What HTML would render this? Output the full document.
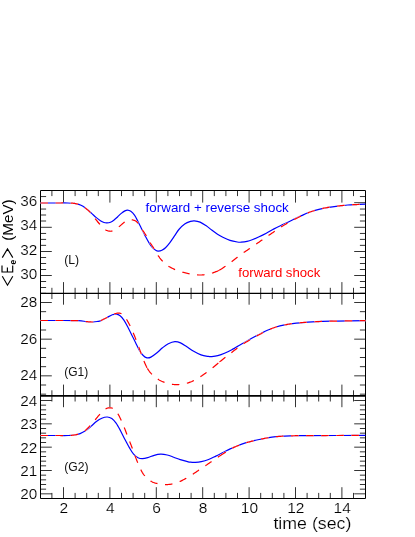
<!DOCTYPE html>
<html><head><meta charset="utf-8"><title>plot</title>
<style>
html,body{margin:0;padding:0;background:#fff;}
body{width:415px;height:537px;overflow:hidden;font-family:"Liberation Sans",sans-serif;}
svg{display:block;}
text{font-family:"Liberation Sans",sans-serif;stroke:#fff;stroke-width:0.18px;paint-order:fill stroke;}
text.ns{stroke:none;}
svg{will-change:transform;transform:translateZ(0);}
</style></head><body>
<svg width="415" height="537" viewBox="0 0 415 537">
<rect width="415" height="537" fill="#fff"/>
<g fill="none" stroke="#000" stroke-width="1">
<path d="M40.50 287.50H46.10M359.90 287.50H365.50M40.50 281.50H46.10M359.90 281.50H365.50M40.50 275.50H51.80M354.20 275.50H365.50M40.50 269.50H46.10M359.90 269.50H365.50M40.50 263.50H46.10M359.90 263.50H365.50M40.50 257.50H46.10M359.90 257.50H365.50M40.50 251.50H51.80M354.20 251.50H365.50M40.50 245.35H46.10M359.90 245.35H365.50M40.50 239.40H46.10M359.90 239.40H365.50M40.50 233.45H46.10M359.90 233.45H365.50M40.50 227.30H51.80M354.20 227.30H365.50M40.50 221.00H46.10M359.90 221.00H365.50M40.50 215.00H46.10M359.90 215.00H365.50M40.50 209.05H46.10M359.90 209.05H365.50M354.20 202.70H365.50M40.50 196.55H46.10M359.90 196.55H365.50M40.50 394.16H46.10M359.90 394.16H365.50M40.50 385.00H46.10M359.90 385.00H365.50M40.50 375.83H51.80M354.20 375.83H365.50M40.50 366.66H46.10M359.90 366.66H365.50M40.50 357.50H46.10M359.90 357.50H365.50M40.50 348.33H46.10M359.90 348.33H365.50M40.50 339.16H51.80M354.20 339.16H365.50M40.50 330.00H46.10M359.90 330.00H365.50M40.50 311.66H46.10M359.90 311.66H365.50M40.50 302.50H51.80M354.20 302.50H365.50M40.50 293.33H46.10M359.90 293.33H365.50M40.50 493.83H51.80M354.20 493.83H365.50M40.50 489.17H46.10M359.90 489.17H365.50M40.50 484.50H46.10M359.90 484.50H365.50M40.50 479.83H46.10M359.90 479.83H365.50M40.50 475.17H46.10M359.90 475.17H365.50M40.50 470.50H51.80M354.20 470.50H365.50M40.50 465.83H46.10M359.90 465.83H365.50M40.50 461.17H46.10M359.90 461.17H365.50M40.50 456.50H46.10M359.90 456.50H365.50M40.50 451.83H46.10M359.90 451.83H365.50M40.50 447.17H51.80M354.20 447.17H365.50M40.50 442.50H46.10M359.90 442.50H365.50M40.50 437.83H46.10M359.90 437.83H365.50M40.50 433.17H46.10M359.90 433.17H365.50M40.50 428.50H46.10M359.90 428.50H365.50M40.50 423.83H51.80M354.20 423.83H365.50M40.50 419.17H46.10M359.90 419.17H365.50M40.50 414.50H46.10M359.90 414.50H365.50M40.50 409.83H46.10M359.90 409.83H365.50M40.50 405.17H46.10M359.90 405.17H365.50M40.50 400.50H51.80M354.20 400.50H365.50M51.90 190.50V196.10M51.90 287.80V299.00M51.90 390.30V401.50M51.90 492.90V498.50M63.50 190.50V202.60M63.50 282.10V304.70M63.50 384.60V407.20M63.50 487.20V498.50M75.10 190.50V196.10M75.10 287.80V299.00M75.10 390.30V401.50M75.10 492.90V498.50M86.70 190.50V196.10M86.70 287.80V299.00M86.70 390.30V401.50M86.70 492.90V498.50M98.30 190.50V196.10M98.30 287.80V299.00M98.30 390.30V401.50M98.30 492.90V498.50M109.90 190.50V202.60M109.90 282.10V304.70M109.90 384.60V407.20M109.90 487.20V498.50M121.50 190.50V196.10M121.50 287.80V299.00M121.50 390.30V401.50M121.50 492.90V498.50M133.10 190.50V196.10M133.10 287.80V299.00M133.10 390.30V401.50M133.10 492.90V498.50M144.70 190.50V196.10M144.70 287.80V299.00M144.70 390.30V401.50M144.70 492.90V498.50M156.30 190.50V202.60M156.30 282.10V304.70M156.30 384.60V407.20M156.30 487.20V498.50M167.90 190.50V196.10M167.90 287.80V299.00M167.90 390.30V401.50M167.90 492.90V498.50M179.50 190.50V196.10M179.50 287.80V299.00M179.50 390.30V401.50M179.50 492.90V498.50M191.10 190.50V196.10M191.10 287.80V299.00M191.10 390.30V401.50M191.10 492.90V498.50M202.70 190.50V202.60M202.70 282.10V304.70M202.70 384.60V407.20M202.70 487.20V498.50M214.30 190.50V196.10M214.30 287.80V299.00M214.30 390.30V401.50M214.30 492.90V498.50M225.90 190.50V196.10M225.90 287.80V299.00M225.90 390.30V401.50M225.90 492.90V498.50M237.50 190.50V196.10M237.50 287.80V299.00M237.50 390.30V401.50M237.50 492.90V498.50M249.10 190.50V202.60M249.10 282.10V304.70M249.10 384.60V407.20M249.10 487.20V498.50M260.70 190.50V196.10M260.70 287.80V299.00M260.70 390.30V401.50M260.70 492.90V498.50M272.30 190.50V196.10M272.30 287.80V299.00M272.30 390.30V401.50M272.30 492.90V498.50M283.90 190.50V196.10M283.90 287.80V299.00M283.90 390.30V401.50M283.90 492.90V498.50M295.50 190.50V202.60M295.50 282.10V304.70M295.50 384.60V407.20M295.50 487.20V498.50M307.10 190.50V196.10M307.10 287.80V299.00M307.10 390.30V401.50M307.10 492.90V498.50M318.70 190.50V196.10M318.70 287.80V299.00M318.70 390.30V401.50M318.70 492.90V498.50M330.30 190.50V196.10M330.30 287.80V299.00M330.30 390.30V401.50M330.30 492.90V498.50M341.90 190.50V202.60M341.90 282.10V304.70M341.90 384.60V407.20M341.90 487.20V498.50M353.50 190.50V196.10M353.50 287.80V299.00M353.50 390.30V401.50M353.50 492.90V498.50" stroke-width="0.8"/>
<path d="M40.5 190.5H365.5V498.5H40.5Z" stroke-width="1"/>
<path d="M40.5 293.4H365.5" stroke-width="1.1"/>
<path d="M40.5 395.9H365.5" stroke-width="1.6"/>
</g>
<g fill="none" stroke-linejoin="round">
<path d="M40.50 203.00 C42.92 203.00 50.42 203.00 55.00 203.00 C59.58 203.00 64.78 202.93 68.00 203.00 C71.22 203.07 72.52 203.17 74.30 203.40 C76.08 203.63 77.25 203.92 78.70 204.40 C80.15 204.88 81.57 205.45 83.00 206.30 C84.43 207.15 85.85 208.32 87.30 209.50 C88.75 210.68 90.25 212.08 91.70 213.40 C93.15 214.72 94.55 216.18 96.00 217.40 C97.45 218.62 99.07 219.85 100.40 220.70 C101.73 221.55 102.92 222.13 104.00 222.50 C105.08 222.87 105.82 222.95 106.90 222.90 C107.98 222.85 109.30 222.70 110.50 222.20 C111.70 221.70 112.90 220.82 114.10 219.90 C115.30 218.98 116.50 217.78 117.70 216.70 C118.90 215.62 120.10 214.37 121.30 213.40 C122.50 212.43 123.87 211.45 124.90 210.90 C125.93 210.35 126.52 210.03 127.50 210.10 C128.48 210.17 129.63 210.45 130.80 211.30 C131.97 212.15 133.28 213.47 134.50 215.20 C135.72 216.93 136.90 219.42 138.10 221.70 C139.30 223.98 140.50 226.50 141.70 228.90 C142.90 231.30 144.10 233.82 145.30 236.10 C146.50 238.38 147.70 240.67 148.90 242.60 C150.10 244.53 151.30 246.37 152.50 247.70 C153.70 249.03 155.13 250.03 156.10 250.60 C157.07 251.17 157.33 251.17 158.30 251.10 C159.27 251.03 160.70 250.77 161.90 250.20 C163.10 249.63 164.17 248.97 165.50 247.70 C166.83 246.43 168.33 244.65 169.90 242.60 C171.47 240.55 173.40 237.58 174.90 235.40 C176.40 233.22 177.27 231.38 178.90 229.50 C180.53 227.62 182.77 225.45 184.70 224.10 C186.63 222.75 188.90 221.95 190.50 221.40 C192.10 220.85 192.70 220.68 194.30 220.80 C195.90 220.92 198.17 221.30 200.10 222.10 C202.03 222.90 203.97 224.28 205.90 225.60 C207.83 226.92 209.77 228.55 211.70 230.00 C213.63 231.45 215.57 233.05 217.50 234.30 C219.43 235.55 221.22 236.48 223.30 237.50 C225.38 238.52 227.67 239.65 230.00 240.40 C232.33 241.15 235.43 241.70 237.30 242.00 C239.17 242.30 239.58 242.30 241.20 242.20 C242.82 242.10 245.07 241.85 247.00 241.40 C248.93 240.95 250.87 240.23 252.80 239.50 C254.73 238.77 256.35 238.05 258.60 237.00 C260.85 235.95 263.73 234.55 266.30 233.20 C268.87 231.85 271.43 230.25 274.00 228.90 C276.57 227.55 279.13 226.33 281.70 225.10 C284.27 223.87 287.05 222.63 289.40 221.50 C291.75 220.37 293.77 219.28 295.80 218.30 C297.83 217.32 299.35 216.60 301.60 215.60 C303.85 214.60 306.42 213.35 309.30 212.30 C312.18 211.25 315.68 210.13 318.90 209.30 C322.12 208.47 325.38 207.85 328.60 207.30 C331.82 206.75 335.00 206.38 338.20 206.00 C341.40 205.62 344.58 205.25 347.80 205.00 C351.02 204.75 354.55 204.65 357.50 204.50 C360.45 204.35 364.17 204.17 365.50 204.10" stroke="#0000ff" stroke-width="1.2"/>
<path d="M40.50 203.00L41.21 203.00L42.09 203.00L43.14 203.00L44.31 203.00L45.59 203.00L46.94 203.00L48.33 203.00L49.74 203.00L51.14 203.00L52.50 203.00L53.80 203.00L55.00 203.00L56.16 203.00L57.33 203.00L58.51 202.99L59.69 202.99L60.86 202.98L62.01 202.97L63.13 202.97L64.22 202.97L65.26 202.97L66.24 202.98L67.16 202.99L68.00 203.00L68.77 203.02L69.46 203.04L70.09 203.06L70.67 203.08L71.20 203.11L71.69 203.14L72.15 203.17L72.59 203.21L73.02 203.25L73.44 203.29L73.86 203.34L74.30 203.40L74.73 203.46L75.14 203.52L75.54 203.58L75.91 203.65L76.27 203.72L76.62 203.79L76.97 203.87L77.31 203.96L77.65 204.06L77.99 204.16L78.34 204.28L78.70 204.40L79.06 204.54L79.43 204.68L79.80 204.84L80.17 205.00L80.54 205.18L80.91 205.36L81.27 205.54L81.63 205.73L81.98 205.92L82.33 206.11L82.67 206.31L83.00 206.50L83.32 206.69L83.63 206.88L83.93 207.08L84.22 207.27L84.50 207.47L84.79 207.68L85.07 207.88L85.35 208.09L85.63 208.31L85.91 208.53L86.20 208.76L86.50 209.00L86.80 209.24L87.09 209.47L87.38 209.69L87.67 209.92L87.96 210.15L88.25 210.39L88.55 210.65L88.86 210.93L89.17 211.22L89.50 211.55L89.84 211.91L90.20 212.30L90.58 212.74L90.97 213.22L91.38 213.73L91.80 214.28L92.23 214.85L92.66 215.43L93.10 216.03L93.55 216.62L93.99 217.21L94.43 217.80L94.87 218.36L95.30 218.90L95.73 219.42L96.15 219.95L96.58 220.47L97.00 220.99L97.43 221.50L97.86 222.01L98.28 222.52L98.71 223.01L99.13 223.50L99.56 223.98L99.98 224.44L100.40 224.90L100.82 225.35L101.25 225.81L101.67 226.26L102.10 226.71L102.52 227.15L102.94 227.58L103.36 227.99L103.78 228.39L104.19 228.76L104.60 229.10L105.00 229.42L105.40 229.70L105.79 229.95L106.18 230.17L106.56 230.36L106.94 230.53L107.32 230.68L107.69 230.80L108.05 230.91L108.41 230.99L108.77 231.06L109.12 231.12L109.46 231.17L109.80 231.20L110.12 231.22L110.42 231.24L110.70 231.23L110.98 231.22L111.25 231.19L111.51 231.14L111.78 231.07L112.07 230.98L112.36 230.87L112.68 230.74L113.03 230.58L113.40 230.40L113.81 230.19L114.24 229.94L114.69 229.66L115.17 229.36L115.66 229.04L116.16 228.70L116.66 228.35L117.18 227.98L117.69 227.61L118.20 227.24L118.71 226.87L119.20 226.50L119.69 226.12L120.20 225.72L120.71 225.30L121.22 224.86L121.73 224.42L122.24 223.98L122.75 223.54L123.25 223.12L123.74 222.72L124.21 222.34L124.66 222.00L125.10 221.70L125.51 221.43L125.91 221.19L126.29 220.97L126.65 220.77L127.01 220.59L127.35 220.43L127.69 220.28L128.03 220.16L128.36 220.05L128.70 219.95L129.05 219.87L129.40 219.80L129.76 219.75L130.12 219.71L130.49 219.70L130.86 219.70L131.23 219.71L131.59 219.74L131.96 219.79L132.32 219.85L132.67 219.92L133.02 220.00L133.37 220.10L133.70 220.20L134.02 220.31L134.33 220.41L134.63 220.52L134.92 220.64L135.21 220.77L135.49 220.92L135.78 221.09L136.07 221.28L136.36 221.51L136.66 221.76L136.97 222.06L137.30 222.40L137.64 222.79L137.99 223.23L138.35 223.72L138.71 224.25L139.08 224.80L139.46 225.38L139.83 225.97L140.21 226.57L140.59 227.17L140.96 227.77L141.33 228.34L141.70 228.90L142.06 229.44L142.43 229.98L142.80 230.53L143.17 231.07L143.53 231.61L143.90 232.15L144.26 232.69L144.62 233.23L144.98 233.77L145.33 234.32L145.67 234.86L146.00 235.40L146.32 235.94L146.63 236.48L146.93 237.02L147.22 237.56L147.51 238.10L147.79 238.64L148.08 239.18L148.37 239.72L148.66 240.26L148.96 240.81L149.27 241.35L149.60 241.90L149.94 242.45L150.28 242.99L150.64 243.54L151.00 244.08L151.36 244.62L151.73 245.17L152.10 245.72L152.48 246.28L152.86 246.84L153.24 247.42L153.62 248.00L154.00 248.60L154.38 249.22L154.76 249.86L155.15 250.52L155.54 251.19L155.93 251.87L156.32 252.56L156.72 253.24L157.11 253.91L157.51 254.56L157.91 255.20L158.30 255.82L158.70 256.40L159.10 256.96L159.49 257.50L159.89 258.04L160.29 258.55L160.69 259.05L161.09 259.54L161.49 260.02L161.90 260.48L162.30 260.93L162.70 261.37L163.10 261.79L163.50 262.20L163.89 262.59L164.28 262.96L164.65 263.32L165.03 263.66L165.40 263.98L165.78 264.29L166.16 264.60L166.55 264.90L166.96 265.20L167.38 265.50L167.83 265.80L168.30 266.10L168.80 266.41L169.32 266.72L169.86 267.03L170.42 267.34L171.00 267.65L171.58 267.95L172.17 268.25L172.77 268.54L173.36 268.82L173.95 269.09L174.53 269.35L175.10 269.60L175.66 269.83L176.21 270.06L176.76 270.27L177.30 270.47L177.85 270.66L178.39 270.85L178.94 271.03L179.50 271.21L180.06 271.38L180.63 271.55L181.21 271.73L181.80 271.90L182.41 272.08L183.04 272.25L183.68 272.42L184.33 272.60L184.98 272.77L185.64 272.93L186.30 273.09L186.96 273.25L187.61 273.40L188.26 273.54L188.89 273.67L189.50 273.80L190.10 273.92L190.71 274.03L191.31 274.13L191.91 274.23L192.50 274.32L193.08 274.41L193.65 274.49L194.21 274.56L194.76 274.63L195.29 274.69L195.81 274.75L196.30 274.80L196.77 274.85L197.22 274.89L197.64 274.92L198.05 274.95L198.44 274.98L198.82 274.99L199.20 275.01L199.57 275.01L199.95 275.02L200.32 275.02L200.71 275.01L201.10 275.00L201.50 274.99L201.89 274.97L202.28 274.94L202.66 274.91L203.05 274.88L203.44 274.84L203.83 274.80L204.23 274.75L204.63 274.70L205.04 274.64L205.46 274.57L205.90 274.50L206.34 274.43L206.79 274.35L207.24 274.27L207.69 274.19L208.15 274.11L208.62 274.01L209.10 273.91L209.59 273.80L210.09 273.67L210.61 273.53L211.15 273.37L211.70 273.20L212.27 273.01L212.87 272.82L213.48 272.61L214.10 272.39L214.74 272.16L215.39 271.91L216.05 271.65L216.72 271.38L217.39 271.09L218.06 270.78L218.73 270.45L219.20 270.20M219.20 270.20L219.40 270.10L220.07 269.73L220.76 269.33L221.45 268.90L222.14 268.46L222.85 267.99L223.55 267.52L224.25 267.03L224.96 266.54L225.65 266.05L226.34 265.56L227.03 265.08L227.70 264.60L228.36 264.13L229.02 263.65L229.67 263.17L230.31 262.69L230.95 262.20L231.59 261.72L232.22 261.23L232.86 260.74L233.49 260.26L234.12 259.77L234.76 259.28L235.40 258.80L236.04 258.31L236.68 257.83L237.33 257.34L237.97 256.84L238.61 256.35L239.25 255.86L239.89 255.37L240.53 254.89L241.18 254.41L241.82 253.93L242.46 253.46L243.10 253.00L243.74 252.55L244.38 252.10L245.02 251.66L245.66 251.23L246.30 250.80L246.94 250.38L247.58 249.95L248.23 249.53L248.87 249.10L249.51 248.67L250.15 248.24L250.80 247.80L251.45 247.36L252.10 246.91L252.75 246.46L253.40 246.01L254.05 245.56L254.70 245.11L255.35 244.66L256.00 244.21L256.65 243.75L257.30 243.30L257.95 242.85L258.60 242.40L259.25 241.95L259.89 241.50L260.53 241.05L261.17 240.59L261.82 240.14L262.46 239.69L263.10 239.24L263.74 238.79L264.38 238.34L265.02 237.89L265.66 237.44L266.30 237.00L266.94 236.56L267.58 236.12L268.23 235.69L268.87 235.25L269.51 234.82L270.15 234.39L270.79 233.96L271.43 233.53L272.07 233.10L272.72 232.66L273.36 232.23L274.00 231.80L274.65 231.36L275.31 230.91L275.97 230.46L276.64 230.00L277.30 229.55L277.97 229.09L278.63 228.65L279.27 228.21L279.91 227.78L280.53 227.37L281.12 226.97L281.70 226.60L282.25 226.25L282.78 225.91L283.28 225.60L283.77 225.29L284.25 225.00L284.72 224.72L285.18 224.44L285.64 224.17L286.09 223.91L286.56 223.64L287.02 223.37L287.50 223.10L287.98 222.83L288.44 222.57L288.89 222.32L289.34 222.08L289.79 221.84L290.24 221.59L290.71 221.35L291.18 221.10L291.67 220.84L292.19 220.58L292.73 220.30L293.30 220.00L293.91 219.69L294.55 219.36L295.21 219.01L295.90 218.66L296.61 218.29L297.33 217.92L298.06 217.56L298.79 217.19L299.51 216.83L300.22 216.47L300.92 216.13L301.60 215.80L302.26 215.48L302.90 215.17L303.52 214.86L304.14 214.56L304.75 214.27L305.37 213.98L305.99 213.69L306.61 213.40L307.26 213.12L307.91 212.85L308.59 212.57L309.30 212.30L310.03 212.03L310.79 211.76L311.56 211.49L312.36 211.23L313.16 210.96L313.97 210.71L314.80 210.45L315.62 210.21L316.45 209.97L317.27 209.74L318.09 209.51L318.90 209.30L319.71 209.10L320.51 208.90L321.32 208.71L322.13 208.53L322.94 208.36L323.75 208.19L324.56 208.03L325.37 207.88L326.18 207.73L326.99 207.58L327.79 207.44L328.60 207.30L329.40 207.17L330.21 207.04L331.01 206.92L331.81 206.80L332.61 206.69L333.41 206.59L334.21 206.48L335.00 206.39L335.80 206.29L336.60 206.19L337.40 206.10L338.20 206.00L339.00 205.90L339.80 205.81L340.60 205.72L341.40 205.63L342.19 205.54L342.99 205.45L343.79 205.37L344.59 205.29L345.39 205.21L346.19 205.13L347.00 205.06L347.80 205.00L348.61 204.94L349.43 204.89L350.26 204.84L351.09 204.79L351.92 204.75L352.75 204.71L353.57 204.68L354.39 204.64L355.19 204.61L355.98 204.57L356.75 204.54L357.50 204.50L358.25 204.46L359.02 204.42L359.81 204.38L360.59 204.34L361.36 204.31L362.11 204.27L362.82 204.23L363.49 204.20L364.10 204.17L364.65 204.14L365.12 204.12L365.50 204.10" stroke="#ffffff" stroke-width="1.6" stroke-dasharray="7.5 7.6"/>
<path d="M40.50 203.00L41.21 203.00L42.09 203.00L43.14 203.00L44.31 203.00L45.59 203.00L46.94 203.00L48.33 203.00L49.74 203.00L51.14 203.00L52.50 203.00L53.80 203.00L55.00 203.00L56.16 203.00L57.33 203.00L58.51 202.99L59.69 202.99L60.86 202.98L62.01 202.97L63.13 202.97L64.22 202.97L65.26 202.97L66.24 202.98L67.16 202.99L68.00 203.00L68.77 203.02L69.46 203.04L70.09 203.06L70.67 203.08L71.20 203.11L71.69 203.14L72.15 203.17L72.59 203.21L73.02 203.25L73.44 203.29L73.86 203.34L74.30 203.40L74.73 203.46L75.14 203.52L75.54 203.58L75.91 203.65L76.27 203.72L76.62 203.79L76.97 203.87L77.31 203.96L77.65 204.06L77.99 204.16L78.34 204.28L78.70 204.40L79.06 204.54L79.43 204.68L79.80 204.84L80.17 205.00L80.54 205.18L80.91 205.36L81.27 205.54L81.63 205.73L81.98 205.92L82.33 206.11L82.67 206.31L83.00 206.50L83.32 206.69L83.63 206.88L83.93 207.08L84.22 207.27L84.50 207.47L84.79 207.68L85.07 207.88L85.35 208.09L85.63 208.31L85.91 208.53L86.20 208.76L86.50 209.00L86.80 209.24L87.09 209.47L87.38 209.69L87.67 209.92L87.96 210.15L88.25 210.39L88.55 210.65L88.86 210.93L89.17 211.22L89.50 211.55L89.84 211.91L90.20 212.30L90.58 212.74L90.97 213.22L91.38 213.73L91.80 214.28L92.23 214.85L92.66 215.43L93.10 216.03L93.55 216.62L93.99 217.21L94.43 217.80L94.87 218.36L95.30 218.90L95.73 219.42L96.15 219.95L96.58 220.47L97.00 220.99L97.43 221.50L97.86 222.01L98.28 222.52L98.71 223.01L99.13 223.50L99.56 223.98L99.98 224.44L100.40 224.90L100.82 225.35L101.25 225.81L101.67 226.26L102.10 226.71L102.52 227.15L102.94 227.58L103.36 227.99L103.78 228.39L104.19 228.76L104.60 229.10L105.00 229.42L105.40 229.70L105.79 229.95L106.18 230.17L106.56 230.36L106.94 230.53L107.32 230.68L107.69 230.80L108.05 230.91L108.41 230.99L108.77 231.06L109.12 231.12L109.46 231.17L109.80 231.20L110.12 231.22L110.42 231.24L110.70 231.23L110.98 231.22L111.25 231.19L111.51 231.14L111.78 231.07L112.07 230.98L112.36 230.87L112.68 230.74L113.03 230.58L113.40 230.40L113.81 230.19L114.24 229.94L114.69 229.66L115.17 229.36L115.66 229.04L116.16 228.70L116.66 228.35L117.18 227.98L117.69 227.61L118.20 227.24L118.71 226.87L119.20 226.50L119.69 226.12L120.20 225.72L120.71 225.30L121.22 224.86L121.73 224.42L122.24 223.98L122.75 223.54L123.25 223.12L123.74 222.72L124.21 222.34L124.66 222.00L125.10 221.70L125.51 221.43L125.91 221.19L126.29 220.97L126.65 220.77L127.01 220.59L127.35 220.43L127.69 220.28L128.03 220.16L128.36 220.05L128.70 219.95L129.05 219.87L129.40 219.80L129.76 219.75L130.12 219.71L130.49 219.70L130.86 219.70L131.23 219.71L131.59 219.74L131.96 219.79L132.32 219.85L132.67 219.92L133.02 220.00L133.37 220.10L133.70 220.20L134.02 220.31L134.33 220.41L134.63 220.52L134.92 220.64L135.21 220.77L135.49 220.92L135.78 221.09L136.07 221.28L136.36 221.51L136.66 221.76L136.97 222.06L137.30 222.40L137.64 222.79L137.99 223.23L138.35 223.72L138.71 224.25L139.08 224.80L139.46 225.38L139.83 225.97L140.21 226.57L140.59 227.17L140.96 227.77L141.33 228.34L141.70 228.90L142.06 229.44L142.43 229.98L142.80 230.53L143.17 231.07L143.53 231.61L143.90 232.15L144.26 232.69L144.62 233.23L144.98 233.77L145.33 234.32L145.67 234.86L146.00 235.40L146.32 235.94L146.63 236.48L146.93 237.02L147.22 237.56L147.51 238.10L147.79 238.64L148.08 239.18L148.37 239.72L148.66 240.26L148.96 240.81L149.27 241.35L149.60 241.90L149.94 242.45L150.28 242.99L150.64 243.54L151.00 244.08L151.36 244.62L151.73 245.17L152.10 245.72L152.48 246.28L152.86 246.84L153.24 247.42L153.62 248.00L154.00 248.60L154.38 249.22L154.76 249.86L155.15 250.52L155.54 251.19L155.93 251.87L156.32 252.56L156.72 253.24L157.11 253.91L157.51 254.56L157.91 255.20L158.30 255.82L158.70 256.40L159.10 256.96L159.49 257.50L159.89 258.04L160.29 258.55L160.69 259.05L161.09 259.54L161.49 260.02L161.90 260.48L162.30 260.93L162.70 261.37L163.10 261.79L163.50 262.20L163.89 262.59L164.28 262.96L164.65 263.32L165.03 263.66L165.40 263.98L165.78 264.29L166.16 264.60L166.55 264.90L166.96 265.20L167.38 265.50L167.83 265.80L168.30 266.10L168.80 266.41L169.32 266.72L169.86 267.03L170.42 267.34L171.00 267.65L171.58 267.95L172.17 268.25L172.77 268.54L173.36 268.82L173.95 269.09L174.53 269.35L175.10 269.60L175.66 269.83L176.21 270.06L176.76 270.27L177.30 270.47L177.85 270.66L178.39 270.85L178.94 271.03L179.50 271.21L180.06 271.38L180.63 271.55L181.21 271.73L181.80 271.90L182.41 272.08L183.04 272.25L183.68 272.42L184.33 272.60L184.98 272.77L185.64 272.93L186.30 273.09L186.96 273.25L187.61 273.40L188.26 273.54L188.89 273.67L189.50 273.80L190.10 273.92L190.71 274.03L191.31 274.13L191.91 274.23L192.50 274.32L193.08 274.41L193.65 274.49L194.21 274.56L194.76 274.63L195.29 274.69L195.81 274.75L196.30 274.80L196.77 274.85L197.22 274.89L197.64 274.92L198.05 274.95L198.44 274.98L198.82 274.99L199.20 275.01L199.57 275.01L199.95 275.02L200.32 275.02L200.71 275.01L201.10 275.00L201.50 274.99L201.89 274.97L202.28 274.94L202.66 274.91L203.05 274.88L203.44 274.84L203.83 274.80L204.23 274.75L204.63 274.70L205.04 274.64L205.46 274.57L205.90 274.50L206.34 274.43L206.79 274.35L207.24 274.27L207.69 274.19L208.15 274.11L208.62 274.01L209.10 273.91L209.59 273.80L210.09 273.67L210.61 273.53L211.15 273.37L211.70 273.20L212.27 273.01L212.87 272.82L213.48 272.61L214.10 272.39L214.74 272.16L215.39 271.91L216.05 271.65L216.72 271.38L217.39 271.09L218.06 270.78L218.73 270.45L219.20 270.20M219.20 270.20L219.40 270.10L220.07 269.73L220.76 269.33L221.45 268.90L222.14 268.46L222.85 267.99L223.55 267.52L224.25 267.03L224.96 266.54L225.65 266.05L226.34 265.56L227.03 265.08L227.70 264.60L228.36 264.13L229.02 263.65L229.67 263.17L230.31 262.69L230.95 262.20L231.59 261.72L232.22 261.23L232.86 260.74L233.49 260.26L234.12 259.77L234.76 259.28L235.40 258.80L236.04 258.31L236.68 257.83L237.33 257.34L237.97 256.84L238.61 256.35L239.25 255.86L239.89 255.37L240.53 254.89L241.18 254.41L241.82 253.93L242.46 253.46L243.10 253.00L243.74 252.55L244.38 252.10L245.02 251.66L245.66 251.23L246.30 250.80L246.94 250.38L247.58 249.95L248.23 249.53L248.87 249.10L249.51 248.67L250.15 248.24L250.80 247.80L251.45 247.36L252.10 246.91L252.75 246.46L253.40 246.01L254.05 245.56L254.70 245.11L255.35 244.66L256.00 244.21L256.65 243.75L257.30 243.30L257.95 242.85L258.60 242.40L259.25 241.95L259.89 241.50L260.53 241.05L261.17 240.59L261.82 240.14L262.46 239.69L263.10 239.24L263.74 238.79L264.38 238.34L265.02 237.89L265.66 237.44L266.30 237.00L266.94 236.56L267.58 236.12L268.23 235.69L268.87 235.25L269.51 234.82L270.15 234.39L270.79 233.96L271.43 233.53L272.07 233.10L272.72 232.66L273.36 232.23L274.00 231.80L274.65 231.36L275.31 230.91L275.97 230.46L276.64 230.00L277.30 229.55L277.97 229.09L278.63 228.65L279.27 228.21L279.91 227.78L280.53 227.37L281.12 226.97L281.70 226.60L282.25 226.25L282.78 225.91L283.28 225.60L283.77 225.29L284.25 225.00L284.72 224.72L285.18 224.44L285.64 224.17L286.09 223.91L286.56 223.64L287.02 223.37L287.50 223.10L287.98 222.83L288.44 222.57L288.89 222.32L289.34 222.08L289.79 221.84L290.24 221.59L290.71 221.35L291.18 221.10L291.67 220.84L292.19 220.58L292.73 220.30L293.30 220.00L293.91 219.69L294.55 219.36L295.21 219.01L295.90 218.66L296.61 218.29L297.33 217.92L298.06 217.56L298.79 217.19L299.51 216.83L300.22 216.47L300.92 216.13L301.60 215.80L302.26 215.48L302.90 215.17L303.52 214.86L304.14 214.56L304.75 214.27L305.37 213.98L305.99 213.69L306.61 213.40L307.26 213.12L307.91 212.85L308.59 212.57L309.30 212.30L310.03 212.03L310.79 211.76L311.56 211.49L312.36 211.23L313.16 210.96L313.97 210.71L314.80 210.45L315.62 210.21L316.45 209.97L317.27 209.74L318.09 209.51L318.90 209.30L319.71 209.10L320.51 208.90L321.32 208.71L322.13 208.53L322.94 208.36L323.75 208.19L324.56 208.03L325.37 207.88L326.18 207.73L326.99 207.58L327.79 207.44L328.60 207.30L329.40 207.17L330.21 207.04L331.01 206.92L331.81 206.80L332.61 206.69L333.41 206.59L334.21 206.48L335.00 206.39L335.80 206.29L336.60 206.19L337.40 206.10L338.20 206.00L339.00 205.90L339.80 205.81L340.60 205.72L341.40 205.63L342.19 205.54L342.99 205.45L343.79 205.37L344.59 205.29L345.39 205.21L346.19 205.13L347.00 205.06L347.80 205.00L348.61 204.94L349.43 204.89L350.26 204.84L351.09 204.79L351.92 204.75L352.75 204.71L353.57 204.68L354.39 204.64L355.19 204.61L355.98 204.57L356.75 204.54L357.50 204.50L358.25 204.46L359.02 204.42L359.81 204.38L360.59 204.34L361.36 204.31L362.11 204.27L362.82 204.23L363.49 204.20L364.10 204.17L364.65 204.14L365.12 204.12L365.50 204.10" stroke="#ff0000" stroke-width="1.2" stroke-dasharray="7.5 7.6"/>
<path d="M40.50 320.50 C43.75 320.50 53.65 320.47 60.00 320.50 C66.35 320.53 74.22 320.52 78.60 320.70 C82.98 320.88 83.90 321.38 86.30 321.60 C88.70 321.82 91.08 322.03 93.00 322.00 C94.92 321.97 96.50 321.63 97.80 321.40 C99.10 321.17 99.33 321.22 100.80 320.60 C102.27 319.98 104.68 318.67 106.60 317.70 C108.52 316.73 110.70 315.40 112.30 314.80 C113.90 314.20 114.90 313.93 116.20 314.10 C117.50 314.27 118.82 314.78 120.10 315.80 C121.38 316.82 122.62 318.33 123.90 320.20 C125.18 322.07 126.52 324.58 127.80 327.00 C129.08 329.42 130.32 332.13 131.60 334.70 C132.88 337.27 134.22 339.83 135.50 342.40 C136.78 344.97 138.02 347.92 139.30 350.10 C140.58 352.28 141.92 354.22 143.20 355.50 C144.48 356.78 145.72 357.53 147.00 357.80 C148.28 358.07 149.28 357.90 150.90 357.10 C152.52 356.30 154.77 354.55 156.70 353.00 C158.63 351.45 160.57 349.33 162.50 347.80 C164.43 346.27 166.23 344.82 168.30 343.80 C170.37 342.78 172.87 341.85 174.90 341.70 C176.93 341.55 178.57 342.10 180.50 342.90 C182.43 343.70 184.30 345.10 186.50 346.50 C188.70 347.90 191.28 349.90 193.70 351.30 C196.12 352.70 198.58 354.05 201.00 354.90 C203.42 355.75 206.40 356.12 208.20 356.40 C210.00 356.68 210.20 356.72 211.80 356.60 C213.40 356.48 215.58 356.30 217.80 355.70 C220.02 355.10 222.68 354.05 225.10 353.00 C227.52 351.95 229.90 350.68 232.30 349.40 C234.70 348.12 237.10 346.67 239.50 345.30 C241.90 343.93 244.28 342.58 246.70 341.20 C249.12 339.82 251.78 338.20 254.00 337.00 C256.22 335.80 257.77 335.12 260.00 334.00 C262.23 332.88 264.73 331.47 267.40 330.30 C270.07 329.13 273.12 327.90 276.00 327.00 C278.88 326.10 281.32 325.55 284.70 324.90 C288.08 324.25 292.45 323.55 296.30 323.10 C300.15 322.65 303.47 322.48 307.80 322.20 C312.13 321.92 317.47 321.58 322.30 321.40 C327.13 321.22 329.60 321.23 336.80 321.10 C344.00 320.97 360.72 320.68 365.50 320.60" stroke="#0000ff" stroke-width="1.2"/>
<path d="M40.50 320.50L41.45 320.50L42.63 320.50L44.02 320.50L45.59 320.49L47.29 320.49L49.09 320.49L50.95 320.49L52.84 320.49L54.73 320.49L56.58 320.49L58.34 320.49L60.00 320.50L61.62 320.51L63.28 320.51L64.97 320.52L66.67 320.53L68.37 320.53L70.04 320.54L71.67 320.56L73.24 320.57L74.74 320.60L76.14 320.62L77.43 320.66L78.60 320.70L79.63 320.75L80.53 320.82L81.31 320.89L82.01 320.97L82.63 321.05L83.19 321.14L83.71 321.23L84.21 321.31L84.70 321.39L85.20 321.47L85.73 321.54L86.30 321.60L86.90 321.65L87.50 321.71L88.09 321.76L88.68 321.81L89.26 321.85L89.83 321.89L90.39 321.93L90.94 321.96L91.48 321.98L92.00 322.00L92.51 322.00L93.00 322.00L93.47 321.99L93.93 321.96L94.38 321.93L94.81 321.88L95.23 321.83L95.63 321.77L96.02 321.71L96.40 321.65L96.77 321.59L97.13 321.52L97.47 321.46L97.80 321.40L98.10 321.35L98.37 321.30L98.61 321.26L98.83 321.23L99.04 321.19L99.24 321.14L99.44 321.09L99.66 321.03L99.90 320.95L100.16 320.86L100.46 320.74L100.80 320.60L101.19 320.43L101.61 320.24L102.06 320.03L102.53 319.80L103.02 319.55L103.53 319.29L104.05 319.03L104.57 318.76L105.09 318.49L105.61 318.22L106.11 317.96L106.60 317.70L107.08 317.44L107.55 317.18L108.03 316.90L108.50 316.62L108.98 316.34L109.45 316.06L109.92 315.79L110.40 315.52L110.87 315.27L111.35 315.03L111.82 314.80L112.30 314.60L112.79 314.41L113.28 314.23L113.79 314.05L114.30 313.89L114.81 313.73L115.31 313.59L115.81 313.47L116.30 313.36L116.78 313.26L117.24 313.19L117.68 313.13L118.10 313.10L118.49 313.09L118.86 313.08L119.21 313.10L119.54 313.13L119.86 313.18L120.17 313.24L120.48 313.33L120.78 313.44L121.08 313.57L121.38 313.72L121.68 313.90L122.00 314.10L122.32 314.33L122.64 314.58L122.95 314.86L123.27 315.17L123.59 315.49L123.90 315.84L124.21 316.20L124.53 316.59L124.85 316.99L125.16 317.41L125.48 317.85L125.80 318.30L126.12 318.77L126.44 319.26L126.77 319.77L127.09 320.31L127.42 320.86L127.74 321.43L128.07 322.01L128.40 322.60L128.72 323.21L129.05 323.83L129.37 324.46L129.70 325.10L130.03 325.75L130.35 326.42L130.68 327.10L131.00 327.79L131.33 328.50L131.66 329.22L131.98 329.95L132.31 330.69L132.63 331.43L132.96 332.18L133.28 332.94L133.60 333.70L133.92 334.47L134.24 335.24L134.55 336.03L134.87 336.82L135.19 337.62L135.50 338.43L135.81 339.24L136.13 340.06L136.45 340.89L136.76 341.72L137.08 342.56L137.40 343.40L137.72 344.26L138.06 345.15L138.39 346.05L138.73 346.97L139.07 347.90L139.41 348.82L139.74 349.74L140.07 350.65L140.39 351.53L140.71 352.39L141.01 353.22L141.30 354.00L141.57 354.74L141.83 355.45L142.07 356.13L142.31 356.78L142.53 357.41L142.76 358.03L142.98 358.64L143.20 359.24L143.44 359.84L143.68 360.45L143.93 361.07L144.20 361.70L144.48 362.35L144.77 363.01L145.06 363.67L145.36 364.34L145.67 365.00L145.98 365.67L146.30 366.33L146.63 366.97L146.96 367.61L147.30 368.23L147.40 368.40M147.40 368.40L147.65 368.82L148.00 369.40L148.36 369.95L148.73 370.49L149.11 371.02L149.49 371.53L149.88 372.02L150.28 372.51L150.68 372.98L151.09 373.44L151.51 373.89L151.93 374.34L152.36 374.77L152.80 375.20L153.25 375.62L153.70 376.03L154.17 376.43L154.64 376.83L155.13 377.21L155.61 377.58L156.10 377.94L156.60 378.30L157.10 378.64L157.60 378.97L158.10 379.29L158.60 379.60L159.10 379.90L159.61 380.19L160.13 380.46L160.64 380.73L161.17 380.98L161.69 381.23L162.21 381.46L162.73 381.69L163.25 381.90L163.77 382.11L164.29 382.31L164.80 382.50L165.31 382.68L165.81 382.85L166.31 383.02L166.81 383.17L167.31 383.31L167.81 383.45L168.30 383.58L168.80 383.70L169.30 383.81L169.80 383.91L170.30 384.01L170.80 384.10L171.30 384.18L171.80 384.26L172.29 384.33L172.79 384.39L173.28 384.45L173.78 384.49L174.28 384.53L174.78 384.56L175.30 384.59L175.82 384.60L176.35 384.60L176.90 384.60L177.46 384.59L178.04 384.57L178.62 384.54L179.22 384.51L179.82 384.47L180.43 384.42L181.04 384.36L181.66 384.29L182.27 384.21L182.89 384.12L183.50 384.01L184.10 383.90L184.70 383.77L185.30 383.64L185.90 383.50L186.50 383.34L187.09 383.18L187.69 383.00L188.29 382.81L188.89 382.61L189.49 382.40L190.09 382.18L190.70 381.95L191.30 381.70L191.91 381.44L192.51 381.16L193.12 380.87L193.73 380.56L194.34 380.24L194.95 379.91L195.56 379.57L196.17 379.23L196.78 378.88L197.39 378.52L197.99 378.16L198.60 377.80L199.20 377.43L199.81 377.06L200.41 376.68L201.01 376.29L201.61 375.90L202.21 375.50L202.81 375.10L203.40 374.69L204.00 374.27L204.60 373.85L205.20 373.43L205.80 373.00L206.40 372.57L207.00 372.13L207.60 371.69L208.20 371.24L208.80 370.79L209.40 370.33L210.00 369.87L210.60 369.40L211.20 368.93L211.80 368.46L212.40 367.98L213.00 367.50L213.60 367.01L214.20 366.51L214.80 366.01L215.40 365.50L215.99 364.98L216.59 364.46L217.19 363.94L217.79 363.43L218.39 362.91L218.99 362.40L219.50 361.98M219.50 361.98L219.60 361.90L220.20 361.40L220.81 360.91L221.41 360.43L222.02 359.94L222.63 359.47L223.24 358.99L223.85 358.52L224.46 358.05L225.07 357.58L225.68 357.11L226.29 356.64L226.89 356.17L227.50 355.70L228.10 355.23L228.71 354.76L229.31 354.29L229.91 353.81L230.51 353.34L231.11 352.88L231.71 352.41L232.30 351.94L232.90 351.48L233.50 351.01L234.10 350.56L234.70 350.10L235.30 349.65L235.90 349.19L236.50 348.74L237.10 348.28L237.69 347.83L238.29 347.38L238.89 346.94L239.49 346.50L240.09 346.06L240.69 345.63L241.30 345.21L241.90 344.80L242.51 344.40L243.11 344.00L243.72 343.61L244.33 343.23L244.94 342.85L245.55 342.48L246.16 342.11L246.77 341.74L247.38 341.38L247.99 341.02L248.59 340.66L249.20 340.30L249.81 339.94L250.45 339.57L251.09 339.20L251.74 338.83L252.39 338.46L253.03 338.09L253.66 337.74L254.27 337.40L254.86 337.07L255.41 336.76L255.93 336.47L256.40 336.20L256.81 335.97L257.16 335.77L257.46 335.60L257.73 335.45L257.96 335.31L258.19 335.19L258.41 335.06L258.65 334.93L258.92 334.78L259.22 334.62L259.58 334.43L260.00 334.20L260.48 333.94L261.00 333.65L261.55 333.34L262.14 333.02L262.75 332.68L263.39 332.33L264.04 331.98L264.70 331.63L265.38 331.28L266.05 330.94L266.73 330.61L267.40 330.30L268.07 330.00L268.76 329.70L269.46 329.40L270.17 329.11L270.89 328.82L271.62 328.54L272.35 328.26L273.08 327.99L273.81 327.73L274.55 327.47L275.28 327.23L276.00 327.00L276.71 326.78L277.41 326.58L278.10 326.38L278.79 326.20L279.47 326.02L280.16 325.86L280.86 325.69L281.58 325.53L282.32 325.38L283.08 325.22L283.87 325.06L284.70 324.90L285.57 324.74L286.47 324.57L287.40 324.41L288.36 324.24L289.33 324.08L290.32 323.93L291.33 323.77L292.33 323.62L293.34 323.48L294.34 323.34L295.33 323.22L296.30 323.10L297.25 322.99L298.19 322.90L299.11 322.81L300.03 322.73L300.95 322.66L301.87 322.59L302.80 322.52L303.75 322.46L304.72 322.40L305.71 322.33L306.74 322.27L307.80 322.20L308.90 322.13L310.04 322.06L311.21 321.98L312.41 321.91L313.63 321.83L314.86 321.76L316.11 321.69L317.36 321.63L318.60 321.56L319.85 321.50L321.08 321.45L322.30 321.40L323.46 321.36L324.55 321.32L325.59 321.29L326.61 321.27L327.62 321.25L328.66 321.23L329.75 321.21L330.91 321.20L332.18 321.18L333.56 321.16L335.09 321.13L336.80 321.10L338.79 321.06L341.09 321.02L343.65 320.98L346.38 320.93L349.20 320.88L352.06 320.83L354.86 320.78L357.53 320.74L360.01 320.69L362.21 320.66L364.07 320.62L365.50 320.60" stroke="#ffffff" stroke-width="1.6" stroke-dasharray="7.5 7.6"/>
<path d="M40.50 320.50L41.45 320.50L42.63 320.50L44.02 320.50L45.59 320.49L47.29 320.49L49.09 320.49L50.95 320.49L52.84 320.49L54.73 320.49L56.58 320.49L58.34 320.49L60.00 320.50L61.62 320.51L63.28 320.51L64.97 320.52L66.67 320.53L68.37 320.53L70.04 320.54L71.67 320.56L73.24 320.57L74.74 320.60L76.14 320.62L77.43 320.66L78.60 320.70L79.63 320.75L80.53 320.82L81.31 320.89L82.01 320.97L82.63 321.05L83.19 321.14L83.71 321.23L84.21 321.31L84.70 321.39L85.20 321.47L85.73 321.54L86.30 321.60L86.90 321.65L87.50 321.71L88.09 321.76L88.68 321.81L89.26 321.85L89.83 321.89L90.39 321.93L90.94 321.96L91.48 321.98L92.00 322.00L92.51 322.00L93.00 322.00L93.47 321.99L93.93 321.96L94.38 321.93L94.81 321.88L95.23 321.83L95.63 321.77L96.02 321.71L96.40 321.65L96.77 321.59L97.13 321.52L97.47 321.46L97.80 321.40L98.10 321.35L98.37 321.30L98.61 321.26L98.83 321.23L99.04 321.19L99.24 321.14L99.44 321.09L99.66 321.03L99.90 320.95L100.16 320.86L100.46 320.74L100.80 320.60L101.19 320.43L101.61 320.24L102.06 320.03L102.53 319.80L103.02 319.55L103.53 319.29L104.05 319.03L104.57 318.76L105.09 318.49L105.61 318.22L106.11 317.96L106.60 317.70L107.08 317.44L107.55 317.18L108.03 316.90L108.50 316.62L108.98 316.34L109.45 316.06L109.92 315.79L110.40 315.52L110.87 315.27L111.35 315.03L111.82 314.80L112.30 314.60L112.79 314.41L113.28 314.23L113.79 314.05L114.30 313.89L114.81 313.73L115.31 313.59L115.81 313.47L116.30 313.36L116.78 313.26L117.24 313.19L117.68 313.13L118.10 313.10L118.49 313.09L118.86 313.08L119.21 313.10L119.54 313.13L119.86 313.18L120.17 313.24L120.48 313.33L120.78 313.44L121.08 313.57L121.38 313.72L121.68 313.90L122.00 314.10L122.32 314.33L122.64 314.58L122.95 314.86L123.27 315.17L123.59 315.49L123.90 315.84L124.21 316.20L124.53 316.59L124.85 316.99L125.16 317.41L125.48 317.85L125.80 318.30L126.12 318.77L126.44 319.26L126.77 319.77L127.09 320.31L127.42 320.86L127.74 321.43L128.07 322.01L128.40 322.60L128.72 323.21L129.05 323.83L129.37 324.46L129.70 325.10L130.03 325.75L130.35 326.42L130.68 327.10L131.00 327.79L131.33 328.50L131.66 329.22L131.98 329.95L132.31 330.69L132.63 331.43L132.96 332.18L133.28 332.94L133.60 333.70L133.92 334.47L134.24 335.24L134.55 336.03L134.87 336.82L135.19 337.62L135.50 338.43L135.81 339.24L136.13 340.06L136.45 340.89L136.76 341.72L137.08 342.56L137.40 343.40L137.72 344.26L138.06 345.15L138.39 346.05L138.73 346.97L139.07 347.90L139.41 348.82L139.74 349.74L140.07 350.65L140.39 351.53L140.71 352.39L141.01 353.22L141.30 354.00L141.57 354.74L141.83 355.45L142.07 356.13L142.31 356.78L142.53 357.41L142.76 358.03L142.98 358.64L143.20 359.24L143.44 359.84L143.68 360.45L143.93 361.07L144.20 361.70L144.48 362.35L144.77 363.01L145.06 363.67L145.36 364.34L145.67 365.00L145.98 365.67L146.30 366.33L146.63 366.97L146.96 367.61L147.30 368.23L147.40 368.40M147.40 368.40L147.65 368.82L148.00 369.40L148.36 369.95L148.73 370.49L149.11 371.02L149.49 371.53L149.88 372.02L150.28 372.51L150.68 372.98L151.09 373.44L151.51 373.89L151.93 374.34L152.36 374.77L152.80 375.20L153.25 375.62L153.70 376.03L154.17 376.43L154.64 376.83L155.13 377.21L155.61 377.58L156.10 377.94L156.60 378.30L157.10 378.64L157.60 378.97L158.10 379.29L158.60 379.60L159.10 379.90L159.61 380.19L160.13 380.46L160.64 380.73L161.17 380.98L161.69 381.23L162.21 381.46L162.73 381.69L163.25 381.90L163.77 382.11L164.29 382.31L164.80 382.50L165.31 382.68L165.81 382.85L166.31 383.02L166.81 383.17L167.31 383.31L167.81 383.45L168.30 383.58L168.80 383.70L169.30 383.81L169.80 383.91L170.30 384.01L170.80 384.10L171.30 384.18L171.80 384.26L172.29 384.33L172.79 384.39L173.28 384.45L173.78 384.49L174.28 384.53L174.78 384.56L175.30 384.59L175.82 384.60L176.35 384.60L176.90 384.60L177.46 384.59L178.04 384.57L178.62 384.54L179.22 384.51L179.82 384.47L180.43 384.42L181.04 384.36L181.66 384.29L182.27 384.21L182.89 384.12L183.50 384.01L184.10 383.90L184.70 383.77L185.30 383.64L185.90 383.50L186.50 383.34L187.09 383.18L187.69 383.00L188.29 382.81L188.89 382.61L189.49 382.40L190.09 382.18L190.70 381.95L191.30 381.70L191.91 381.44L192.51 381.16L193.12 380.87L193.73 380.56L194.34 380.24L194.95 379.91L195.56 379.57L196.17 379.23L196.78 378.88L197.39 378.52L197.99 378.16L198.60 377.80L199.20 377.43L199.81 377.06L200.41 376.68L201.01 376.29L201.61 375.90L202.21 375.50L202.81 375.10L203.40 374.69L204.00 374.27L204.60 373.85L205.20 373.43L205.80 373.00L206.40 372.57L207.00 372.13L207.60 371.69L208.20 371.24L208.80 370.79L209.40 370.33L210.00 369.87L210.60 369.40L211.20 368.93L211.80 368.46L212.40 367.98L213.00 367.50L213.60 367.01L214.20 366.51L214.80 366.01L215.40 365.50L215.99 364.98L216.59 364.46L217.19 363.94L217.79 363.43L218.39 362.91L218.99 362.40L219.50 361.98M219.50 361.98L219.60 361.90L220.20 361.40L220.81 360.91L221.41 360.43L222.02 359.94L222.63 359.47L223.24 358.99L223.85 358.52L224.46 358.05L225.07 357.58L225.68 357.11L226.29 356.64L226.89 356.17L227.50 355.70L228.10 355.23L228.71 354.76L229.31 354.29L229.91 353.81L230.51 353.34L231.11 352.88L231.71 352.41L232.30 351.94L232.90 351.48L233.50 351.01L234.10 350.56L234.70 350.10L235.30 349.65L235.90 349.19L236.50 348.74L237.10 348.28L237.69 347.83L238.29 347.38L238.89 346.94L239.49 346.50L240.09 346.06L240.69 345.63L241.30 345.21L241.90 344.80L242.51 344.40L243.11 344.00L243.72 343.61L244.33 343.23L244.94 342.85L245.55 342.48L246.16 342.11L246.77 341.74L247.38 341.38L247.99 341.02L248.59 340.66L249.20 340.30L249.81 339.94L250.45 339.57L251.09 339.20L251.74 338.83L252.39 338.46L253.03 338.09L253.66 337.74L254.27 337.40L254.86 337.07L255.41 336.76L255.93 336.47L256.40 336.20L256.81 335.97L257.16 335.77L257.46 335.60L257.73 335.45L257.96 335.31L258.19 335.19L258.41 335.06L258.65 334.93L258.92 334.78L259.22 334.62L259.58 334.43L260.00 334.20L260.48 333.94L261.00 333.65L261.55 333.34L262.14 333.02L262.75 332.68L263.39 332.33L264.04 331.98L264.70 331.63L265.38 331.28L266.05 330.94L266.73 330.61L267.40 330.30L268.07 330.00L268.76 329.70L269.46 329.40L270.17 329.11L270.89 328.82L271.62 328.54L272.35 328.26L273.08 327.99L273.81 327.73L274.55 327.47L275.28 327.23L276.00 327.00L276.71 326.78L277.41 326.58L278.10 326.38L278.79 326.20L279.47 326.02L280.16 325.86L280.86 325.69L281.58 325.53L282.32 325.38L283.08 325.22L283.87 325.06L284.70 324.90L285.57 324.74L286.47 324.57L287.40 324.41L288.36 324.24L289.33 324.08L290.32 323.93L291.33 323.77L292.33 323.62L293.34 323.48L294.34 323.34L295.33 323.22L296.30 323.10L297.25 322.99L298.19 322.90L299.11 322.81L300.03 322.73L300.95 322.66L301.87 322.59L302.80 322.52L303.75 322.46L304.72 322.40L305.71 322.33L306.74 322.27L307.80 322.20L308.90 322.13L310.04 322.06L311.21 321.98L312.41 321.91L313.63 321.83L314.86 321.76L316.11 321.69L317.36 321.63L318.60 321.56L319.85 321.50L321.08 321.45L322.30 321.40L323.46 321.36L324.55 321.32L325.59 321.29L326.61 321.27L327.62 321.25L328.66 321.23L329.75 321.21L330.91 321.20L332.18 321.18L333.56 321.16L335.09 321.13L336.80 321.10L338.79 321.06L341.09 321.02L343.65 320.98L346.38 320.93L349.20 320.88L352.06 320.83L354.86 320.78L357.53 320.74L360.01 320.69L362.21 320.66L364.07 320.62L365.50 320.60" stroke="#ff0000" stroke-width="1.2" stroke-dasharray="7.5 7.6"/>
<path d="M40.50 435.50 C42.92 435.50 50.38 435.50 55.00 435.50 C59.62 435.50 64.92 435.60 68.20 435.50 C71.48 435.40 72.72 435.22 74.70 434.90 C76.68 434.58 78.30 434.28 80.10 433.60 C81.90 432.92 83.68 432.00 85.50 430.80 C87.32 429.60 89.18 427.95 91.00 426.40 C92.82 424.85 94.60 422.87 96.40 421.50 C98.20 420.13 99.98 418.95 101.80 418.20 C103.62 417.45 105.63 416.93 107.30 417.00 C108.97 417.07 110.33 417.57 111.80 418.60 C113.27 419.63 114.67 421.22 116.10 423.20 C117.53 425.18 118.95 427.83 120.40 430.50 C121.85 433.17 123.28 436.30 124.80 439.20 C126.32 442.10 128.03 445.40 129.50 447.90 C130.97 450.40 132.18 452.57 133.60 454.20 C135.02 455.83 136.55 456.97 138.00 457.70 C139.45 458.43 140.68 458.60 142.30 458.60 C143.92 458.60 145.72 458.25 147.70 457.70 C149.68 457.15 152.03 455.88 154.20 455.30 C156.37 454.72 158.53 454.25 160.70 454.20 C162.87 454.15 165.03 454.50 167.20 455.00 C169.37 455.50 171.53 456.43 173.70 457.20 C175.87 457.97 178.03 458.90 180.20 459.60 C182.37 460.30 184.98 460.97 186.70 461.40 C188.42 461.83 189.07 462.03 190.50 462.20 C191.93 462.37 193.50 462.48 195.30 462.40 C197.10 462.32 199.08 462.18 201.30 461.70 C203.52 461.22 206.18 460.43 208.60 459.50 C211.02 458.57 213.40 457.27 215.80 456.10 C218.20 454.93 220.60 453.70 223.00 452.50 C225.40 451.30 227.78 450.02 230.20 448.90 C232.62 447.78 235.08 446.77 237.50 445.80 C239.92 444.83 242.30 443.87 244.70 443.10 C247.10 442.33 249.48 441.80 251.90 441.20 C254.32 440.60 256.62 440.05 259.20 439.50 C261.78 438.95 264.60 438.37 267.40 437.90 C270.20 437.43 273.12 437.00 276.00 436.70 C278.88 436.40 281.32 436.27 284.70 436.10 C288.08 435.93 292.45 435.78 296.30 435.70 C300.15 435.62 296.27 435.65 307.80 435.60 C319.33 435.55 355.88 435.43 365.50 435.40" stroke="#0000ff" stroke-width="1.2"/>
<path d="M40.50 435.50L41.20 435.50L42.09 435.50L43.14 435.50L44.31 435.50L45.58 435.50L46.92 435.50L48.32 435.50L49.73 435.50L51.13 435.50L52.49 435.50L53.79 435.50L55.00 435.50L56.17 435.50L57.35 435.51L58.55 435.51L59.74 435.52L60.93 435.53L62.10 435.54L63.24 435.54L64.34 435.54L65.40 435.54L66.40 435.53L67.34 435.52L68.20 435.50L68.98 435.47L69.68 435.44L70.32 435.41L70.90 435.37L71.44 435.33L71.94 435.28L72.41 435.23L72.86 435.17L73.31 435.11L73.76 435.05L74.22 434.98L74.70 434.90L75.19 434.82L75.68 434.73L76.16 434.64L76.64 434.55L77.10 434.45L77.56 434.34L78.01 434.23L78.45 434.12L78.88 434.00L79.30 433.87L79.71 433.74L80.10 433.60L80.47 433.46L80.83 433.32L81.16 433.19L81.48 433.04L81.79 432.90L82.09 432.74L82.39 432.58L82.69 432.40L83.00 432.21L83.32 431.99L83.65 431.76L84.00 431.50L84.37 431.22L84.74 430.92L85.12 430.60L85.51 430.27L85.91 429.92L86.31 429.55L86.71 429.17L87.12 428.78L87.54 428.37L87.95 427.96L88.38 427.53L88.80 427.10L89.23 426.65L89.66 426.19L90.10 425.71L90.55 425.21L91.00 424.71L91.45 424.19L91.91 423.67L92.36 423.14L92.82 422.61L93.28 422.07L93.74 421.53L94.20 421.00L94.66 420.46L95.12 419.90L95.59 419.33L96.06 418.75L96.53 418.17L97.00 417.59L97.47 417.01L97.94 416.44L98.41 415.88L98.88 415.33L99.34 414.80L99.80 414.30L100.26 413.81L100.72 413.31L101.19 412.83L101.65 412.34L102.11 411.87L102.58 411.42L103.03 410.98L103.48 410.57L103.92 410.18L104.36 409.82L104.79 409.49L105.20 409.20L105.60 408.94L105.99 408.72L106.36 408.52L106.72 408.35L107.08 408.20L107.43 408.08L107.78 407.98L108.13 407.91L108.49 407.85L108.85 407.82L109.22 407.80L109.60 407.80L109.99 407.81L110.39 407.84L110.80 407.89L111.22 407.95L111.64 408.03L112.06 408.14L112.48 408.27L112.89 408.43L113.31 408.62L113.71 408.84L114.11 409.10L114.50 409.40L114.88 409.74L115.25 410.11L115.62 410.52L115.98 410.96L116.33 411.43L116.69 411.93L117.04 412.45L117.39 413.00L117.74 413.57L118.09 414.16L118.44 414.77L118.80 415.40L119.16 416.05L119.52 416.72L119.87 417.42L120.23 418.15L120.59 418.90L120.94 419.66L121.30 420.45L121.66 421.25L122.02 422.07L122.38 422.90L122.74 423.75L123.10 424.60L123.46 425.47L123.82 426.36L124.18 427.26L124.54 428.19L124.90 429.12L125.26 430.08L125.62 431.04L125.99 432.01L126.36 433.00L126.73 433.99L127.11 434.99L127.50 436.00L127.90 437.02L128.31 438.06L128.72 439.12L129.14 440.20L129.57 441.28L130.00 442.37L130.43 443.46L130.86 444.55L131.28 445.63L131.69 446.70L132.10 447.76L132.50 448.80L132.89 449.83L133.27 450.86L133.64 451.89L134.01 452.91L134.38 453.93L134.74 454.94L135.10 455.94L135.46 456.92L135.82 457.89L136.18 458.85L136.54 459.78L136.90 460.70L137.26 461.60L137.62 462.50L137.98 463.38L138.34 464.26L138.70 465.12L139.06 465.96L139.41 466.79L139.77 467.59L140.13 468.36L140.48 469.11L140.84 469.82L141.20 470.50L141.55 471.14L141.89 471.74L142.22 472.31L142.55 472.84L142.88 473.35L143.21 473.84L143.55 474.31L143.90 474.77L144.27 475.23L144.66 475.68L145.06 476.13L145.50 476.60L145.96 477.08L146.45 477.56L146.97 478.04L147.50 478.52L148.05 478.99L148.61 479.46L149.17 479.91L149.74 480.34L150.32 480.75L150.89 481.13L151.45 481.48L152.00 481.80L152.55 482.08L153.10 482.33L153.65 482.55L154.20 482.75L154.75 482.92L155.30 483.08L155.85 483.21L156.40 483.34L156.95 483.46L157.50 483.57L158.05 483.69L158.60 483.80L159.15 483.91L159.69 484.02L160.23 484.11L160.77 484.20L161.32 484.28L161.86 484.36L162.40 484.42L162.94 484.47L163.48 484.52L164.02 484.56L164.56 484.58L165.10 484.60L165.64 484.61L166.18 484.61L166.72 484.60L167.27 484.58L167.81 484.55L168.35 484.52L168.89 484.47L169.43 484.42L169.97 484.35L170.52 484.28L171.06 484.19L171.60 484.10L172.14 483.99L172.68 483.88L173.23 483.75L173.77 483.61L174.31 483.46L174.86 483.31L175.40 483.14L175.94 482.97L176.48 482.79L177.02 482.60L177.56 482.40L178.10 482.20L178.63 481.99L179.16 481.78L179.69 481.56L180.21 481.33L180.73 481.09L181.26 480.85L181.78 480.60L182.31 480.34L182.85 480.07L183.39 479.79L183.94 479.50L184.50 479.20L185.07 478.89L185.65 478.56L186.24 478.23L186.84 477.88L187.44 477.53L188.05 477.16L188.66 476.79L189.27 476.42L189.88 476.04L190.49 475.66L191.10 475.28L191.70 474.90L192.30 474.52L192.90 474.13L193.50 473.74L194.10 473.34L194.70 472.94L195.30 472.53L195.90 472.13L196.50 471.72L197.10 471.31L197.70 470.91L198.30 470.50L198.90 470.10L199.50 469.70L200.10 469.30L200.70 468.91L201.30 468.51L201.89 468.12L202.49 467.72L203.09 467.32L203.69 466.92L204.29 466.52L204.89 466.12L205.50 465.71L206.10 465.30L206.71 464.88L207.31 464.46L207.92 464.04L208.53 463.61L209.14 463.18L209.75 462.75L210.36 462.32L210.97 461.89L211.58 461.46L212.19 461.04L212.79 460.62L213.40 460.20L214.00 459.79L214.61 459.38L215.21 458.97L215.81 458.57L216.41 458.17L217.01 457.77L217.61 457.37L218.20 456.97L218.80 456.58L219.40 456.18L219.50 456.12M219.50 456.12L220.00 455.79L220.60 455.40L221.20 455.01L221.81 454.61L222.43 454.21L223.04 453.81L223.66 453.41L224.27 453.01L224.88 452.62L225.48 452.24L226.08 451.86L226.66 451.49L227.24 451.14L227.80 450.80L228.35 450.47L228.88 450.15L229.40 449.84L229.92 449.54L230.42 449.25L230.93 448.97L231.42 448.69L231.91 448.42L232.41 448.16L232.90 447.90L233.40 447.65L233.90 447.40L234.41 447.16L234.92 446.92L235.44 446.70L235.95 446.47L236.47 446.26L236.98 446.05L237.49 445.85L237.99 445.65L238.49 445.45L238.97 445.27L239.44 445.08L239.90 444.90L240.33 444.73L240.74 444.56L241.13 444.40L241.50 444.25L241.86 444.11L242.22 443.96L242.59 443.82L242.97 443.68L243.36 443.54L243.78 443.40L244.22 443.25L244.70 443.10L245.22 442.94L245.76 442.79L246.33 442.63L246.92 442.47L247.52 442.31L248.14 442.14L248.77 441.98L249.40 441.82L250.04 441.66L250.67 441.51L251.29 441.35L251.90 441.20L252.50 441.05L253.10 440.90L253.70 440.76L254.29 440.61L254.89 440.47L255.49 440.33L256.09 440.19L256.70 440.05L257.31 439.91L257.93 439.78L258.56 439.64L259.20 439.50L259.85 439.36L260.51 439.22L261.18 439.08L261.85 438.94L262.53 438.81L263.22 438.67L263.91 438.53L264.60 438.40L265.30 438.27L266.00 438.14L266.70 438.02L267.40 437.90L268.10 437.78L268.81 437.67L269.52 437.56L270.23 437.45L270.95 437.34L271.67 437.24L272.39 437.14L273.11 437.04L273.83 436.95L274.56 436.86L275.28 436.78L276.00 436.70L276.71 436.63L277.41 436.56L278.10 436.50L278.79 436.45L279.47 436.40L280.16 436.35L280.86 436.31L281.58 436.26L282.32 436.22L283.08 436.18L283.87 436.14L284.70 436.10L285.57 436.06L286.47 436.02L287.40 435.98L288.36 435.94L289.33 435.90L290.32 435.87L291.33 435.84L292.33 435.80L293.34 435.77L294.34 435.75L295.33 435.72L296.30 435.70L297.11 435.68L297.69 435.67L298.10 435.66L298.43 435.65L298.76 435.64L299.17 435.64L299.74 435.63L300.55 435.63L301.68 435.62L303.21 435.62L305.22 435.61L307.80 435.60L311.17 435.59L315.41 435.57L320.33 435.55L325.75 435.53L331.49 435.51L337.37 435.49L343.21 435.47L348.83 435.46L354.05 435.44L358.69 435.42L362.56 435.41L365.50 435.40" stroke="#ffffff" stroke-width="1.6" stroke-dasharray="7.5 7.6"/>
<path d="M40.50 435.50L41.20 435.50L42.09 435.50L43.14 435.50L44.31 435.50L45.58 435.50L46.92 435.50L48.32 435.50L49.73 435.50L51.13 435.50L52.49 435.50L53.79 435.50L55.00 435.50L56.17 435.50L57.35 435.51L58.55 435.51L59.74 435.52L60.93 435.53L62.10 435.54L63.24 435.54L64.34 435.54L65.40 435.54L66.40 435.53L67.34 435.52L68.20 435.50L68.98 435.47L69.68 435.44L70.32 435.41L70.90 435.37L71.44 435.33L71.94 435.28L72.41 435.23L72.86 435.17L73.31 435.11L73.76 435.05L74.22 434.98L74.70 434.90L75.19 434.82L75.68 434.73L76.16 434.64L76.64 434.55L77.10 434.45L77.56 434.34L78.01 434.23L78.45 434.12L78.88 434.00L79.30 433.87L79.71 433.74L80.10 433.60L80.47 433.46L80.83 433.32L81.16 433.19L81.48 433.04L81.79 432.90L82.09 432.74L82.39 432.58L82.69 432.40L83.00 432.21L83.32 431.99L83.65 431.76L84.00 431.50L84.37 431.22L84.74 430.92L85.12 430.60L85.51 430.27L85.91 429.92L86.31 429.55L86.71 429.17L87.12 428.78L87.54 428.37L87.95 427.96L88.38 427.53L88.80 427.10L89.23 426.65L89.66 426.19L90.10 425.71L90.55 425.21L91.00 424.71L91.45 424.19L91.91 423.67L92.36 423.14L92.82 422.61L93.28 422.07L93.74 421.53L94.20 421.00L94.66 420.46L95.12 419.90L95.59 419.33L96.06 418.75L96.53 418.17L97.00 417.59L97.47 417.01L97.94 416.44L98.41 415.88L98.88 415.33L99.34 414.80L99.80 414.30L100.26 413.81L100.72 413.31L101.19 412.83L101.65 412.34L102.11 411.87L102.58 411.42L103.03 410.98L103.48 410.57L103.92 410.18L104.36 409.82L104.79 409.49L105.20 409.20L105.60 408.94L105.99 408.72L106.36 408.52L106.72 408.35L107.08 408.20L107.43 408.08L107.78 407.98L108.13 407.91L108.49 407.85L108.85 407.82L109.22 407.80L109.60 407.80L109.99 407.81L110.39 407.84L110.80 407.89L111.22 407.95L111.64 408.03L112.06 408.14L112.48 408.27L112.89 408.43L113.31 408.62L113.71 408.84L114.11 409.10L114.50 409.40L114.88 409.74L115.25 410.11L115.62 410.52L115.98 410.96L116.33 411.43L116.69 411.93L117.04 412.45L117.39 413.00L117.74 413.57L118.09 414.16L118.44 414.77L118.80 415.40L119.16 416.05L119.52 416.72L119.87 417.42L120.23 418.15L120.59 418.90L120.94 419.66L121.30 420.45L121.66 421.25L122.02 422.07L122.38 422.90L122.74 423.75L123.10 424.60L123.46 425.47L123.82 426.36L124.18 427.26L124.54 428.19L124.90 429.12L125.26 430.08L125.62 431.04L125.99 432.01L126.36 433.00L126.73 433.99L127.11 434.99L127.50 436.00L127.90 437.02L128.31 438.06L128.72 439.12L129.14 440.20L129.57 441.28L130.00 442.37L130.43 443.46L130.86 444.55L131.28 445.63L131.69 446.70L132.10 447.76L132.50 448.80L132.89 449.83L133.27 450.86L133.64 451.89L134.01 452.91L134.38 453.93L134.74 454.94L135.10 455.94L135.46 456.92L135.82 457.89L136.18 458.85L136.54 459.78L136.90 460.70L137.26 461.60L137.62 462.50L137.98 463.38L138.34 464.26L138.70 465.12L139.06 465.96L139.41 466.79L139.77 467.59L140.13 468.36L140.48 469.11L140.84 469.82L141.20 470.50L141.55 471.14L141.89 471.74L142.22 472.31L142.55 472.84L142.88 473.35L143.21 473.84L143.55 474.31L143.90 474.77L144.27 475.23L144.66 475.68L145.06 476.13L145.50 476.60L145.96 477.08L146.45 477.56L146.97 478.04L147.50 478.52L148.05 478.99L148.61 479.46L149.17 479.91L149.74 480.34L150.32 480.75L150.89 481.13L151.45 481.48L152.00 481.80L152.55 482.08L153.10 482.33L153.65 482.55L154.20 482.75L154.75 482.92L155.30 483.08L155.85 483.21L156.40 483.34L156.95 483.46L157.50 483.57L158.05 483.69L158.60 483.80L159.15 483.91L159.69 484.02L160.23 484.11L160.77 484.20L161.32 484.28L161.86 484.36L162.40 484.42L162.94 484.47L163.48 484.52L164.02 484.56L164.56 484.58L165.10 484.60L165.64 484.61L166.18 484.61L166.72 484.60L167.27 484.58L167.81 484.55L168.35 484.52L168.89 484.47L169.43 484.42L169.97 484.35L170.52 484.28L171.06 484.19L171.60 484.10L172.14 483.99L172.68 483.88L173.23 483.75L173.77 483.61L174.31 483.46L174.86 483.31L175.40 483.14L175.94 482.97L176.48 482.79L177.02 482.60L177.56 482.40L178.10 482.20L178.63 481.99L179.16 481.78L179.69 481.56L180.21 481.33L180.73 481.09L181.26 480.85L181.78 480.60L182.31 480.34L182.85 480.07L183.39 479.79L183.94 479.50L184.50 479.20L185.07 478.89L185.65 478.56L186.24 478.23L186.84 477.88L187.44 477.53L188.05 477.16L188.66 476.79L189.27 476.42L189.88 476.04L190.49 475.66L191.10 475.28L191.70 474.90L192.30 474.52L192.90 474.13L193.50 473.74L194.10 473.34L194.70 472.94L195.30 472.53L195.90 472.13L196.50 471.72L197.10 471.31L197.70 470.91L198.30 470.50L198.90 470.10L199.50 469.70L200.10 469.30L200.70 468.91L201.30 468.51L201.89 468.12L202.49 467.72L203.09 467.32L203.69 466.92L204.29 466.52L204.89 466.12L205.50 465.71L206.10 465.30L206.71 464.88L207.31 464.46L207.92 464.04L208.53 463.61L209.14 463.18L209.75 462.75L210.36 462.32L210.97 461.89L211.58 461.46L212.19 461.04L212.79 460.62L213.40 460.20L214.00 459.79L214.61 459.38L215.21 458.97L215.81 458.57L216.41 458.17L217.01 457.77L217.61 457.37L218.20 456.97L218.80 456.58L219.40 456.18L219.50 456.12M219.50 456.12L220.00 455.79L220.60 455.40L221.20 455.01L221.81 454.61L222.43 454.21L223.04 453.81L223.66 453.41L224.27 453.01L224.88 452.62L225.48 452.24L226.08 451.86L226.66 451.49L227.24 451.14L227.80 450.80L228.35 450.47L228.88 450.15L229.40 449.84L229.92 449.54L230.42 449.25L230.93 448.97L231.42 448.69L231.91 448.42L232.41 448.16L232.90 447.90L233.40 447.65L233.90 447.40L234.41 447.16L234.92 446.92L235.44 446.70L235.95 446.47L236.47 446.26L236.98 446.05L237.49 445.85L237.99 445.65L238.49 445.45L238.97 445.27L239.44 445.08L239.90 444.90L240.33 444.73L240.74 444.56L241.13 444.40L241.50 444.25L241.86 444.11L242.22 443.96L242.59 443.82L242.97 443.68L243.36 443.54L243.78 443.40L244.22 443.25L244.70 443.10L245.22 442.94L245.76 442.79L246.33 442.63L246.92 442.47L247.52 442.31L248.14 442.14L248.77 441.98L249.40 441.82L250.04 441.66L250.67 441.51L251.29 441.35L251.90 441.20L252.50 441.05L253.10 440.90L253.70 440.76L254.29 440.61L254.89 440.47L255.49 440.33L256.09 440.19L256.70 440.05L257.31 439.91L257.93 439.78L258.56 439.64L259.20 439.50L259.85 439.36L260.51 439.22L261.18 439.08L261.85 438.94L262.53 438.81L263.22 438.67L263.91 438.53L264.60 438.40L265.30 438.27L266.00 438.14L266.70 438.02L267.40 437.90L268.10 437.78L268.81 437.67L269.52 437.56L270.23 437.45L270.95 437.34L271.67 437.24L272.39 437.14L273.11 437.04L273.83 436.95L274.56 436.86L275.28 436.78L276.00 436.70L276.71 436.63L277.41 436.56L278.10 436.50L278.79 436.45L279.47 436.40L280.16 436.35L280.86 436.31L281.58 436.26L282.32 436.22L283.08 436.18L283.87 436.14L284.70 436.10L285.57 436.06L286.47 436.02L287.40 435.98L288.36 435.94L289.33 435.90L290.32 435.87L291.33 435.84L292.33 435.80L293.34 435.77L294.34 435.75L295.33 435.72L296.30 435.70L297.11 435.68L297.69 435.67L298.10 435.66L298.43 435.65L298.76 435.64L299.17 435.64L299.74 435.63L300.55 435.63L301.68 435.62L303.21 435.62L305.22 435.61L307.80 435.60L311.17 435.59L315.41 435.57L320.33 435.55L325.75 435.53L331.49 435.51L337.37 435.49L343.21 435.47L348.83 435.46L354.05 435.44L358.69 435.42L362.56 435.41L365.50 435.40" stroke="#ff0000" stroke-width="1.2" stroke-dasharray="7.5 7.6"/>
</g>
<g class="txt">
<text x="37.20" y="278.50" text-anchor="end" font-size="15.30" fill="#000" >30</text>
<text x="37.20" y="254.50" text-anchor="end" font-size="15.30" fill="#000" >32</text>
<text x="37.20" y="230.30" text-anchor="end" font-size="15.30" fill="#000" >34</text>
<text x="37.20" y="205.70" text-anchor="end" font-size="15.30" fill="#000" >36</text>
<text x="37.20" y="380.23" text-anchor="end" font-size="15.30" fill="#000" >24</text>
<text x="37.20" y="343.56" text-anchor="end" font-size="15.30" fill="#000" >26</text>
<text x="37.20" y="306.90" text-anchor="end" font-size="15.30" fill="#000" >28</text>
<text x="37.20" y="499.23" text-anchor="end" font-size="15.30" fill="#000" >20</text>
<text x="37.20" y="475.90" text-anchor="end" font-size="15.30" fill="#000" >21</text>
<text x="37.20" y="452.57" text-anchor="end" font-size="15.30" fill="#000" >22</text>
<text x="37.20" y="429.23" text-anchor="end" font-size="15.30" fill="#000" >23</text>
<text x="37.20" y="405.90" text-anchor="end" font-size="15.30" fill="#000" >24</text>
<text x="63.80" y="512.80" text-anchor="middle" font-size="15.50" fill="#000" >2</text>
<text x="110.20" y="512.80" text-anchor="middle" font-size="15.50" fill="#000" >4</text>
<text x="156.60" y="512.80" text-anchor="middle" font-size="15.50" fill="#000" >6</text>
<text x="203.00" y="512.80" text-anchor="middle" font-size="15.50" fill="#000" >8</text>
<text x="249.40" y="512.80" text-anchor="middle" font-size="15.50" fill="#000" >10</text>
<text x="295.80" y="512.80" text-anchor="middle" font-size="15.50" fill="#000" >12</text>
<text x="342.20" y="512.80" text-anchor="middle" font-size="15.50" fill="#000" >14</text>
<text x="145.6" y="212" font-size="12.6" fill="#0000ff" class="ns" textLength="143.2" lengthAdjust="spacingAndGlyphs">forward + reverse shock</text>
<text x="238.3" y="277.2" font-size="12.6" fill="#ff0000" class="ns" textLength="82" lengthAdjust="spacingAndGlyphs">forward shock</text>
<text x="64.2" y="263.8" font-size="12.8" fill="#111" class="ns" textLength="14.9" lengthAdjust="spacingAndGlyphs">(L)</text>
<text x="64.2" y="376.2" font-size="12.8" fill="#111" class="ns" textLength="24" lengthAdjust="spacingAndGlyphs">(G1)</text>
<text x="64.2" y="471" font-size="12.8" fill="#111" class="ns" textLength="24.3" lengthAdjust="spacingAndGlyphs">(G2)</text>
<text x="273.4" y="529" font-size="16" fill="#000" textLength="78" lengthAdjust="spacingAndGlyphs">time (sec)</text>
<g transform="translate(13.0 240.8) rotate(-90)"><text x="0" y="0" font-size="15.5" fill="#000" class="ns" textLength="41.4" lengthAdjust="spacingAndGlyphs">(MeV)</text></g>
<g transform="translate(15.5 264.4) rotate(-90)"><text x="0" y="0" font-size="8.5" font-weight="bold" fill="#000" class="ns">e</text></g>
<path d="M2.3 276.3L7.5 285.2L12.8 276.3M2.3 257.6L7.5 248.9L12.8 257.6M2.0 265.6V272.0H12.7V265.6M7.4 272.0V267.4" fill="none" stroke="#000" stroke-width="1.15" stroke-linejoin="miter"/>
</g>
</svg>
</body></html>
